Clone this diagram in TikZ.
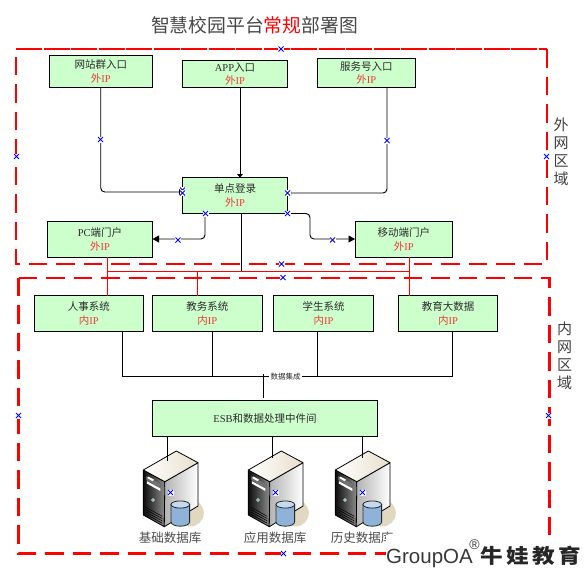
\documentclass[tikz,border=0pt]{standalone}
\usepackage{fontspec}
\setmainfont{Liberation Serif}
\newfontfamily\cjk{Noto Sans CJK SC}
\newfontfamily\wmlat{Liberation Sans}
\newfontfamily\wmcjk[LetterSpace=15]{Noto Sans CJK SC}
\usetikzlibrary{arrows.meta,calc}
\definecolor{boxgreen}{HTML}{CCFFCC}
\definecolor{ipred}{HTML}{F23A3A}
\definecolor{txt}{HTML}{2A2A2A}
\definecolor{srvshadow}{HTML}{E0D8C0}
\definecolor{srvtop}{HTML}{E8DFCC}
\definecolor{srvled}{HTML}{6FC8A0}
\definecolor{srvcyl}{HTML}{8FB3D8}
\definecolor{srvcyltop}{HTML}{C4DAEE}
\newcommand{\wip}{{\color{ipred}{\cjk 外}IP}}
\newcommand{\nip}{{\color{ipred}{\cjk 内}IP}}
\tikzset{
  ipbox/.style={draw=black,fill=boxgreen,line width=0.9pt,inner sep=0pt,outer sep=0pt,align=center,
    text=txt,font=\fontsize{10.5}{14}\selectfont},
  conn/.style={draw=black,line width=0.95pt,rounded corners=4pt},
  arr/.style={conn,-{Triangle[length=6.5pt,width=7pt]}},
  arrsmall/.style={conn,-{Triangle[length=3.5pt,width=6pt]}},
  redline/.style={draw=red,line width=0.9pt},
  zone/.style={draw=red,line width=2.4pt,dash pattern=on 18.5pt off 9pt},
  zonetop/.style={draw=red,line width=2.4pt,dash pattern=on 26pt off 1.5pt},
  sidelbl/.style={text=black!75,font=\fontsize{15}{18}\selectfont\cjk,align=center,inner sep=0pt},
  srvlbl/.style={text=black!70,font=\fontsize{12.5}{14}\selectfont\cjk,inner sep=0pt},
  server/.pic={
    \fill[srvshadow] (47,43) ellipse [x radius=13.5pt,y radius=13.5pt];
    \shade[left color=black!95,right color=black!45,draw=black,line width=0.8pt,line join=round]
      (0,0) -- (21.5,11.7) -- (21,56.7) -- (0,45) -- cycle;
    \fill[black!55] (3,6) -- (17,14) -- (17,18) -- (3,10) -- cycle;
    \fill[white] (3.5,11) -- (17,18.5) -- (17,21) -- (3.5,13.5) -- cycle;
    \fill[white] (5,6.5) -- (11,9.8) -- (9,11) -- (4,8) -- cycle;
    \fill[srvled,draw=black!20,line width=0.5pt] (9.7,30) circle (1.6pt);
    \foreach \k in {0,2.3,4.6,6.9}{
      \draw[black,line width=0.5pt] (3,37.5+\k) -- (19,46.3+\k);
    }
    \shade[left color=black!30,right color=white,draw=black,line width=0.8pt,line join=round]
      (21.5,11.7) -- (54.7,-7.3) -- (54.7,36) -- (21,56.7) -- cycle;
    \shade[left color=white,right color=srvtop,draw=black,line width=0.8pt,line join=round]
      (0,0) -- (33,-19) -- (54.7,-7.3) -- (21.5,11.7) -- cycle;
    \shade[left color=srvcyl,middle color=white,right color=srvcyl,draw=black!85,line width=0.8pt]
      (27.7,34.5) -- (27.7,52) arc[start angle=180,end angle=360,x radius=9.3pt,y radius=4.2pt]
      -- (46.3,34.5) -- cycle;
    \fill[srvcyltop,draw=black!85,line width=0.8pt] (37,34.5) ellipse [x radius=9.3pt,y radius=3.6pt];
  }
}
\begin{document}
\begin{tikzpicture}[x=1pt,y=-1pt]
\useasboundingbox (0,0) rectangle (586,573);
\fill[white] (0,0) rectangle (586,573);
% title
\node[inner sep=0pt,text=black!72,font=\fontsize{18.8}{20}\selectfont\cjk] (title) at (254.5,25.5)
  {智慧校园平台{\color{red}常规}部署图};
% zones
\draw[zonetop] (16,49) -- (547,49);
\draw[zone] (547,49) -- (547,264) -- (16,264) -- (16,49);
\draw[zone] (18.5,278) -- (549.5,278) -- (549.5,553.5) -- (18.5,553.5) -- cycle;
% boxes
\node[ipbox,minimum width=103.5pt,minimum height=32pt] (web) at (100.75,71.5) {{\cjk 网站群入口}\\\wip};
\node[ipbox,minimum width=105pt,minimum height=27.5pt] (app) at (235,73.75) {APP{\cjk 入口}\\[-1pt]\wip};
\node[ipbox,minimum width=97.5pt,minimum height=29pt] (svc) at (366.25,73) {{\cjk 服务号入口}\\[-1pt]\wip};
\node[ipbox,minimum width=105pt,minimum height=36pt] (sso) at (235,195.5) {{\cjk 单点登录}\\\wip};
\node[ipbox,minimum width=105pt,minimum height=36pt] (pc) at (100,239) {PC{\cjk 端门户}\\\wip};
\node[ipbox,minimum width=97.5pt,minimum height=36pt] (mob) at (403.75,239) {{\cjk 移动端门户}\\\wip};
\node[ipbox,minimum width=109.5pt,minimum height=36pt] (hr) at (88.75,313.5) {{\cjk 人事系统}\\\nip};
\node[ipbox,minimum width=109.5pt,minimum height=36pt] (jw) at (207.25,313.5) {{\cjk 教务系统}\\\nip};
\node[ipbox,minimum width=99.5pt,minimum height=36pt] (xs) at (323.5,313.5) {{\cjk 学生系统}\\\nip};
\node[ipbox,minimum width=99pt,minimum height=36pt] (edu) at (448,313.5) {{\cjk 教育大数据}\\\nip};
\node[ipbox,minimum width=225pt,minimum height=35.5pt] (esb) at (265,418.25) {ESB{\cjk 和数据处理中件间}};
% data label
\node[inner sep=1pt,text=txt,font=\fontsize{7.5}{9}\selectfont\cjk] (dj) at (285.5,376.5) {数据集成};
% upper connectors
\draw[arrsmall] (web.south) |- ([yshift=3.5pt]sso.west);
\draw[arrsmall] ([xshift=5pt]app.south) -- ([xshift=5pt]sso.north);
\draw[arrsmall] ([xshift=20.75pt]svc.south) |- ([yshift=2.5pt]sso.east);
\draw[arr] ([xshift=-30pt]sso.south) |- (pc.east);
\coordinate (xmob) at (310,239);
\draw[arr] (sso.south east) -| (xmob) -- (mob.west);
% red bus
\coordinate (busL) at (107.5,271);
\coordinate (busR) at (409,271);
\draw[conn] ([xshift=6.5pt]sso.south) -- ([xshift=6.5pt]sso.south |- busL);
\draw[redline] (busL) -- (busR);
\draw[redline] ([xshift=7.5pt]pc.south) -- ([xshift=18.75pt]hr.north);
\draw[redline] ([xshift=5.25pt]mob.south) -- ([xshift=-39pt]edu.north);
\draw[redline] ([xshift=-9.75pt]jw.north) -- ([xshift=-9.75pt]jw.north |- busL);
% data bus
\draw[conn,rounded corners=0pt] ([xshift=33.75pt]hr.south) |- (dj.west);
\draw[conn,rounded corners=0pt] ([xshift=4.5pt]edu.south) |- (dj.east);
\draw[conn] ([xshift=5.25pt]jw.south) -- ([xshift=5.25pt]jw.south |- dj.west);
\draw[conn] ([xshift=-6pt]xs.south) -- ([xshift=-6pt]xs.south |- dj.east);
\draw[conn] ([xshift=-1.5pt,yshift=2.5pt]esb.north) -- ([xshift=-1.5pt,yshift=2.5pt]esb.north |- dj.west);
% servers
\pic (srvA) at (143.3,470) {server};
\pic (srvB) at (248.3,470) {server};
\pic (srvC) at (335.3,470) {server};
\coordinate (topA) at (167.5,461);
\coordinate (topB) at (272.5,457.5);
\coordinate (topC) at (362.7,458);
\draw[conn] (esb.south -| topA) -- (topA);
\draw[conn] (esb.south -| topB) -- (topB);
\draw[conn] (esb.south -| topC) -- (topC);
% labels
\node[srvlbl] (la) at (170,538) {基础数据库};
\node[srvlbl] (lb) at (275,538) {应用数据库};
\node[srvlbl] (lc) at (362,538) {历史数据库};
\node[sidelbl] (outerlbl) at (561,152) {外\\网\\区\\域};
\node[sidelbl] (innerlbl) at (564.7,355.5) {内\\网\\区\\域};
% selection marks
\foreach \p in {(281,49),(16.5,156.5),(100.5,139.5),(387,140.5),(546.5,156.5),(182.5,190),(182.5,193),
  (287.5,193),(205.5,213.5),(287.5,213.5),(178,240),(332.5,240),(281.5,264),(283,277.5),(18.5,415.5),
  (548.5,415.5),(170.5,492.5),(275.5,492.5),(362.5,492.5),(283.5,553.5)}{
  \fill[white] \p ++(-3,-3) rectangle ++(6,6);
  \draw[blue,line width=0.8pt] \p ++(-2.5,-2.5) -- ++(5,5) ++(-5,0) -- ++(5,-5);
}
% watermark
\fill[white] (386,535) rectangle (586,573);
\node[anchor=base west,inner sep=0pt,text=black!78,font=\fontsize{20.5}{22}\selectfont\wmlat] (wm) at (386,563.5) {GroupOA};
\node[inner sep=0pt,text=black!78,font=\fontsize{14}{15}\selectfont\wmlat] (wmr) at (474.5,544.5) {®};
\node[anchor=base west,inner sep=0pt,text=black!85,font=\fontsize{20}{22}\selectfont\wmcjk\bfseries] (wmc) at (480,563)
  {\scalebox{1.13}[1]{牛娃教育}};
\end{tikzpicture}
\end{document}
